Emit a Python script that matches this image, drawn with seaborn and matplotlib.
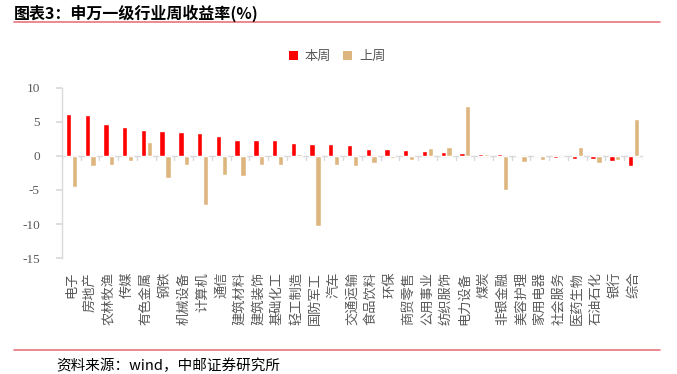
import matplotlib
matplotlib.use("Agg")
import matplotlib.pyplot as plt
import seaborn as sns
import pandas as pd
from matplotlib.lines import Line2D
from matplotlib.patches import Patch

industries = ["电子", "房地产", "农林牧渔", "传媒", "有色金属", "钢铁", "机械设备", "计算机",
              "通信", "建筑材料", "建筑装饰", "基础化工", "轻工制造", "国防军工", "汽车",
              "交通运输", "食品饮料", "环保", "商贸零售", "公用事业", "纺织服饰", "电力设备",
              "煤炭", "非银金融", "美容护理", "家用电器", "社会服务", "医药生物", "石油石化",
              "银行", "综合"]
this_week = [6.15, 5.95, 4.73, 4.24, 3.76, 3.66, 3.50, 3.37, 2.98, 2.39, 2.39, 2.34, 1.85,
             1.80, 1.71, 1.66, 1.07, 0.98, 0.88, 0.78, 0.63, 0.49, 0.34, 0.29, 0.20, 0.20,
             -0.34, -0.39, -0.49, -0.73, -1.51]
last_week = [-4.59, -1.51, -1.37, -0.68, 2.10, -3.17, -1.37, -7.27, -2.73, -2.88, -1.37,
             -1.37, 0.34, -10.30, -1.27, -1.41, -0.98, -0.34, -0.63, 1.17, 1.37, 7.37, 0.34,
             -4.98, -0.83, -0.59, -0.05, 1.37, -1.07, -0.54, 5.37]
series_names = ["本周", "上周"]
yticks = [10, 5, 0, -5, -10, -15]

sns.set_theme(style="white")
plt.rcParams["font.family"] = ["Noto Sans CJK SC", "DejaVu Sans"]

df = pd.DataFrame({
    "industry": industries * 2,
    "value": this_week + last_week,
    "week": [series_names[0]] * len(industries) + [series_names[1]] * len(industries),
})

colors = {"本周": "#FF0000", "上周": "#DDB57E"}

fig = plt.figure(figsize=(6.77, 3.74), dpi=100)
ax = fig.add_axes([0.0916, 0.31, 0.858, 0.455])
sns.barplot(data=df, x="industry", y="value", hue="week", order=industries,
            hue_order=series_names, palette=colors, width=0.62, gap=0.08,
            legend=False, ax=ax, saturation=1)

ax.set_ylim(-15, 10)
ax.set_yticks(yticks)
ax.set_yticklabels([str(v) for v in yticks], fontsize=9.5, color="#595959",
                   family="Liberation Serif")
ax.set_xlim(-0.5, len(industries) - 0.5)
ax.set_xlabel("")
ax.set_ylabel("")

for s in ["top", "right", "bottom"]:
    ax.spines[s].set_visible(False)
ax.spines["left"].set_color("#D9D9D9")
ax.spines["left"].set_linewidth(1)
ax.tick_params(axis="y", which="both", left=True, length=4, color="#D9D9D9", pad=12)
ax.tick_params(axis="x", bottom=False, pad=0)

# zero line with category separators
ax.axhline(0, color="#D9D9D9", lw=1, zorder=0.5)
for i in range(len(industries) + 1):
    ax.plot([i - 0.5, i - 0.5], [0, -0.6], color="#D9D9D9", lw=1, zorder=0.5)

ax.set_xticks(range(len(industries)))
ax.set_xticklabels(industries, rotation=90, fontsize=9.5, color="#595959")
for lbl in ax.get_xticklabels():
    lbl.set_verticalalignment("top")
ax.xaxis.set_tick_params(pad=4)

handles = [Patch(facecolor=colors[n], edgecolor="none") for n in series_names]
fig.legend(handles, series_names, loc="center", bbox_to_anchor=(0.498, 0.848),
           ncol=2, frameon=False, fontsize=9.5, handlelength=0.7, handleheight=0.7,
           columnspacing=0.9, handletextpad=0.5, labelcolor="#595959")

fig.text(0.02, 0.965, "图表3：申万一级行业周收益率(%)", fontsize=11.5, fontweight="bold",
         va="center", ha="left", color="#000000")
fig.add_artist(Line2D([0.02, 0.975], [0.94, 0.94], color="#E8767D", lw=1.2))
fig.add_artist(Line2D([0.02, 0.975], [0.064, 0.064], color="#E8767D", lw=1.2))
fig.text(0.083, 0.022, "资料来源：wind，中邮证券研究所", fontsize=10.5, va="center",
         ha="left", color="#000000")

fig.savefig("out.png", dpi=100)
